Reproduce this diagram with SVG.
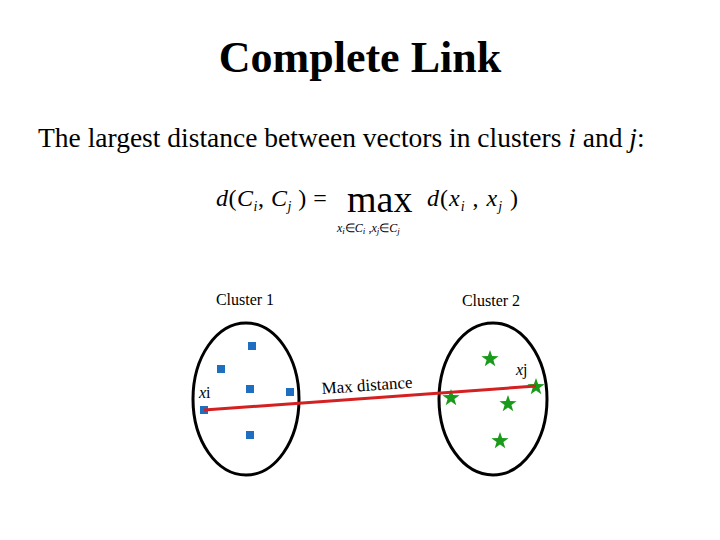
<svg xmlns="http://www.w3.org/2000/svg" width="720" height="540" viewBox="0 0 720 540">
<defs>
<style>
text{font-family:"Liberation Serif","Times New Roman",serif;fill:#000}
.sq{fill:#1f6fc0}
.st{fill:#1a9a1a}
.ell{fill:none;stroke:#000;stroke-width:3}
</style>
<polygon id="star" points="0,-9 2.1,-2.9 8.6,-2.8 3.4,1.1 5.3,7.3 0,3.6 -5.3,7.3 -3.4,1.1 -8.6,-2.8 -2.1,-2.9"/>
</defs>
<rect width="720" height="540" fill="#fff"/>
<text x="360" y="72" font-size="44" font-weight="bold" text-anchor="middle">Complete Link</text>
<text x="38" y="147" font-size="27.5">The largest distance between vectors in clusters <tspan font-style="italic">i</tspan> and <tspan font-style="italic">j</tspan>:</text>
<g id="formula">
<text x="216" y="206" font-size="24" font-style="italic" letter-spacing="0.5">d<tspan font-style="normal">(</tspan>C<tspan font-size="14" dy="5">i</tspan><tspan dy="-5" font-style="normal">, </tspan>C<tspan font-size="14" dy="5">j</tspan><tspan dy="-5" font-style="normal"> ) =</tspan></text>
<text x="347" y="212" font-size="38">max</text>
<text x="337" y="232" font-size="12" font-style="italic">x<tspan font-size="9" dy="2">i</tspan><tspan dy="-2" font-style="normal">∈</tspan>C<tspan font-size="9" dy="2">i</tspan><tspan dy="-2" font-style="normal"> ,</tspan>x<tspan font-size="9" dy="2">j</tspan><tspan dy="-2" font-style="normal">∈</tspan>C<tspan font-size="9" dy="2">j</tspan></text>
<text x="427" y="206" font-size="24" font-style="italic" letter-spacing="1">d<tspan font-style="normal">(</tspan>x<tspan font-size="14" dy="5">i</tspan><tspan dy="-5" font-style="normal"> , </tspan>x<tspan font-size="14" dy="5">j</tspan><tspan dy="-5" font-style="normal"> )</tspan></text>
</g>
<g id="cluster1">
<text x="245" y="305" font-size="16" text-anchor="middle">Cluster 1</text>
<ellipse class="ell" cx="246" cy="399" rx="53" ry="76"/>
<rect class="sq" x="248" y="342" width="8" height="8"/>
<rect class="sq" x="217" y="365" width="8" height="8"/>
<rect class="sq" x="246" y="385" width="8" height="8"/>
<rect class="sq" x="286" y="388" width="8" height="8"/>
<rect class="sq" x="200" y="406" width="8" height="8"/>
<rect class="sq" x="246" y="431" width="8" height="8"/>
<text x="199" y="398" font-size="16" font-style="italic">x<tspan font-style="normal">i</tspan></text>
</g>
<g id="cluster2">
<text x="491" y="306" font-size="16" text-anchor="middle">Cluster 2</text>
<ellipse class="ell" cx="493" cy="399" rx="54" ry="76"/>
<use href="#star" class="st" x="490" y="359"/>
<use href="#star" class="st" x="451" y="398"/>
<use href="#star" class="st" x="508" y="404"/>
<use href="#star" class="st" x="500" y="441"/>
<use href="#star" class="st" x="536" y="387"/>
<text x="516" y="375" font-size="16" font-style="italic">x<tspan font-style="normal">j</tspan></text>
</g>
<g id="connectors">
<line x1="204" y1="410" x2="536" y2="386" stroke="#d42020" stroke-width="3"/>
<text x="322" y="394" font-size="17" transform="rotate(-4 322 394)">Max distance</text>
</g>
</svg>
